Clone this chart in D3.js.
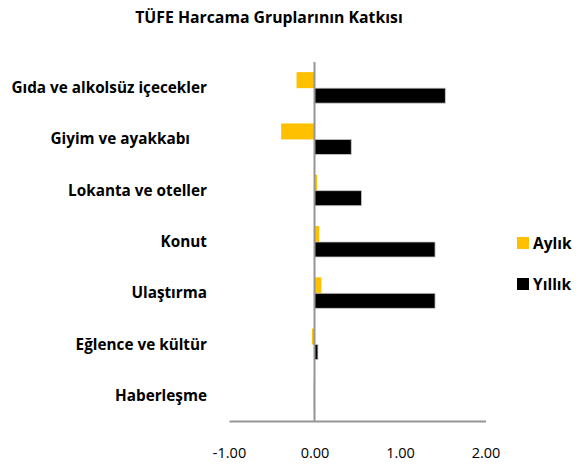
<!DOCTYPE html>
<html>
<head>
<meta charset="utf-8">
<script src="https://cdn.jsdelivr.net/npm/d3@7"></script>
<style>
  body { margin: 0; background: #fff; }
  text { font-family: "Open Sans", sans-serif; fill: #000; }
</style>
</head>
<body>
<div id="container"></div>
<script>
const categories = ["Gıda ve alkolsüz içecekler", "Giyim ve ayakkabı", "Lokanta ve oteller", "Konut", "Ulaştırma", "Eğlence ve kültür", "Haberleşme"];
const aylik = [-0.21, -0.39, 0.03, 0.055, 0.08, -0.03, -0.01];
const yillik = [1.53, 0.43, 0.55, 1.41, 1.41, 0.04, -0.005];
const seriesNames = ["Aylık", "Yıllık"];
const seriesColors = ["#ffc000", "#000000"];
const ticks = [-1, 0, 1, 2];

const width = 579, height = 469;
let svg = d3.select("#container").append("svg")
  .attr("width", width).attr("height", height);

// title
svg.append("text")
  .attr("x", 269).attr("y", 23)
  .attr("text-anchor", "middle")
  .style("font-weight", "bold").style("font-size", "15.8px")
  .text("TÜFE Harcama Gruplarının Katkısı");

let x = d3.scaleLinear().domain([-1, 2]).range([229, 485.5]);
let y = d3.scaleBand().domain(categories).range([62, 421]);

// bars: yellow above, black below, ~15px each
let barH = 15;
let rows = categories.map((c, i) => ({ c, a: aylik[i], b: yillik[i] }));

let g = svg.append("g");
g.selectAll(".ay").data(rows).enter().append("rect")
  .attr("class", "ay")
  .attr("x", d => x(Math.min(0, d.a)))
  .attr("width", d => Math.abs(x(d.a) - x(0)))
  .attr("y", d => y(d.c) + y.bandwidth() / 2 - barH - 0.5)
  .attr("height", barH + 1)
  .attr("fill", seriesColors[0]);

g.selectAll(".yi").data(rows).enter().append("rect")
  .attr("class", "yi")
  .attr("x", d => x(Math.min(0, d.b)))
  .attr("width", d => Math.abs(x(d.b) - x(0)))
  .attr("y", d => y(d.c) + y.bandwidth() / 2 + 0.5)
  .attr("height", barH)
  .attr("fill", seriesColors[1])
  .attr("stroke", "#c8c8c8")
  .attr("stroke-width", 0.8);

// zero line
svg.append("line")
  .attr("x1", x(0)).attr("x2", x(0))
  .attr("y1", 62).attr("y2", 421)
  .attr("stroke", "#959595").attr("stroke-width", 2);

// x axis
let xAxis = svg.append("g")
  .attr("transform", "translate(0,421)")
  .call(d3.axisBottom(x).tickValues(ticks)
    .tickFormat(d => d3.format(".2f")(d).replace("−", "-"))
    .tickSize(0).tickPadding(27));
xAxis.select(".domain").attr("stroke", "#959595").attr("stroke-width", 2);
xAxis.selectAll("text").style("font-size", "14.5px").style("font-family", "'Open Sans', sans-serif");

// category labels
svg.selectAll(".cat").data(categories).enter().append("text")
  .attr("class", "cat")
  .attr("x", (d, i) => i == 1 ? 190 : 207)
  .attr("y", d => y(d) + y.bandwidth() / 2 + 5.5)
  .attr("text-anchor", "end")
  .style("font-weight", "bold").style("font-size", "15.3px")
  .text(d => d);

// legend
let legend = svg.selectAll(".leg").data(seriesNames).enter().append("g")
  .attr("transform", (d, i) => `translate(517,${237 + i * 41})`);
legend.append("rect")
  .attr("width", 12).attr("height", 12)
  .attr("fill", (d, i) => seriesColors[i]);
legend.append("text")
  .attr("x", 16).attr("y", 11.5)
  .style("font-weight", "bold").style("font-size", "15.5px")
  .text(d => d);
</script>
</body>
</html>
